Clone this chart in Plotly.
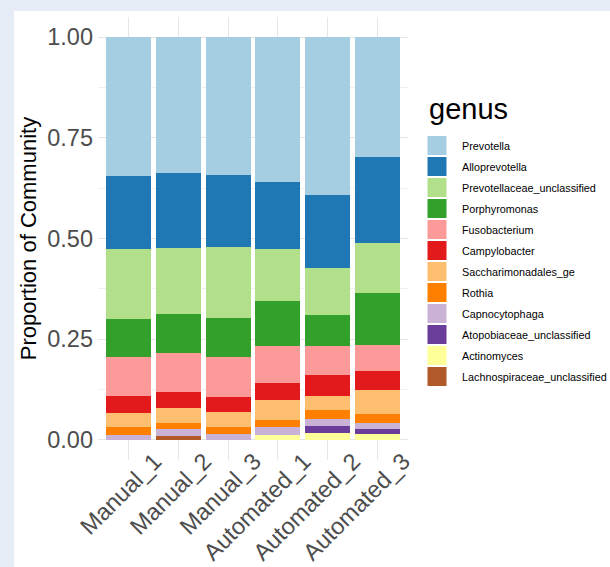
import plotly.graph_objects as go

samples = ["Manual_1", "Manual_2", "Manual_3", "Automated_1", "Automated_2", "Automated_3"]

# genus order as in legend (top of stack first)
genera = ["Prevotella", "Alloprevotella", "Prevotellaceae_unclassified", "Porphyromonas",
          "Fusobacterium", "Campylobacter", "Saccharimonadales_ge", "Rothia",
          "Capnocytophaga", "Atopobiaceae_unclassified", "Actinomyces",
          "Lachnospiraceae_unclassified"]

colors = ["#A6CEE3", "#1F78B4", "#B2DF8A", "#33A02C", "#FB9A99", "#E31A1C",
          "#FDBF6F", "#FF7F00", "#CAB2D6", "#6A3D9A", "#FFFF99", "#B15928"]

prevotella = [0.346, 0.3375, 0.342, 0.360, 0.392, 0.296]
alloprevotella = [0.180, 0.1865, 0.178, 0.1655, 0.181, 0.2154]
prevotellaceae_unclassified = [0.173, 0.163, 0.1765, 0.130, 0.117, 0.1226]
porphyromonas = [0.096, 0.097, 0.096, 0.112, 0.076, 0.131]
fusobacterium = [0.097, 0.098, 0.101, 0.092, 0.074, 0.063]
campylobacter = [0.042, 0.038, 0.037, 0.043, 0.051, 0.047]
saccharimonadales_ge = [0.034, 0.037, 0.037, 0.049, 0.035, 0.060]
rothia = [0.019, 0.017, 0.0175, 0.017, 0.022, 0.022]
capnocytophaga = [0.013, 0.016, 0.0145, 0.019, 0.017, 0.0145]
atopobiaceae_unclassified = [0.0, 0.0, 0.0, 0.0, 0.019, 0.013]
actinomyces = [0.0, 0.0, 0.0, 0.013, 0.016, 0.015]
lachnospiraceae_unclassified = [0.0, 0.010, 0.0, 0.0, 0.0, 0.0]

values = [prevotella, alloprevotella, prevotellaceae_unclassified, porphyromonas,
          fusobacterium, campylobacter, saccharimonadales_ge, rothia,
          capnocytophaga, atopobiaceae_unclassified, actinomyces,
          lachnospiraceae_unclassified]

FONT = "Liberation Sans, Arial, sans-serif"
BG = "#E5ECF6"
PL, PR, PT, PB = 98, 408, 17, 460  # plot area in pixels
PW, PH = PR - PL, PB - PT

fig = go.Figure()

# bars: bottom of stack first
for g, c, v in reversed(list(zip(genera, colors, values))):
    fig.add_trace(go.Bar(x=samples, y=v, name=g, marker_color=c,
                         marker_line_width=0, width=0.9, showlegend=False))

# legend entries (large square keys)
for g, c in zip(genera, colors):
    fig.add_trace(go.Scatter(x=[None], y=[None], mode="markers", name=g,
                             legendgroup=g,
                             marker=dict(symbol="square", size=16, color=c,
                                         line=dict(color=c, width=3))))

fig.update_layout(
    width=610, height=567,
    barmode="stack",
    paper_bgcolor="white",
    plot_bgcolor="white",
    margin=dict(l=PL, r=610 - PR, t=PT, b=567 - PB, autoexpand=False),
    font=dict(family=FONT),
    shapes=[
        dict(type="rect", xref="paper", yref="paper",
             x0=(-10 - PL) / PW, x1=(14 - PL) / PW,
             y0=(PB - 600) / PH, y1=(PB + 10) / PH,
             fillcolor=BG, line_width=0, layer="below"),
        dict(type="rect", xref="paper", yref="paper",
             x0=(-10 - PL) / PW, x1=(620 - PL) / PW,
             y0=(PB - 11) / PH, y1=(PB + 10) / PH,
             fillcolor=BG, line_width=0, layer="below"),
    ],
    annotations=[dict(text="genus", xref="paper", yref="paper",
                      x=(427 - PL) / PW, y=(PB - 91) / PH,
                      xanchor="left", yanchor="top", showarrow=False,
                      font=dict(size=29, color="black", family=FONT))],
    legend=dict(
        font=dict(size=10.8, color="black", family=FONT),
        x=(412 - PL) / PW, xanchor="left", y=(PB - 131) / PH, yanchor="top",
        bgcolor="rgba(0,0,0,0)", tracegroupgap=2, itemwidth=40,
    ),
    xaxis=dict(
        automargin=False,
        categoryorder="array", categoryarray=samples,
        range=[-0.62, 5.62],
        showgrid=True, gridcolor="#E6E6E6", gridwidth=1,
        zeroline=False, showline=False, ticks="",
        tickangle=-45, tickfont=dict(size=23.5, color="#4D4D4D", family=FONT),
        ticklabelshift=26, ticklabelstandoff=-18, ticklabeloverflow="allow",
    ),
    yaxis=dict(
        automargin=False,
        range=[-0.05, 1.05],
        tickvals=[0, 0.25, 0.5, 0.75, 1.0], tickformat=".2f",
        showgrid=True, gridcolor="#E6E6E6", gridwidth=1,
        minor=dict(dtick=0.125, tick0=0, showgrid=True, gridcolor="#F0F0F0", gridwidth=1),
        zeroline=False, showline=False, ticks="",
        tickfont=dict(size=23.5, color="#4D4D4D", family=FONT),
        ticklabelstandoff=4,
        title=dict(text="Proportion of Community",
                   font=dict(size=22, color="black", family=FONT), standoff=4),
    ),
)

fig.write_html("out.html", config={"displayModeBar": False},
               post_script="document.body.style.margin='0px';document.body.style.background='" + BG + "';")
